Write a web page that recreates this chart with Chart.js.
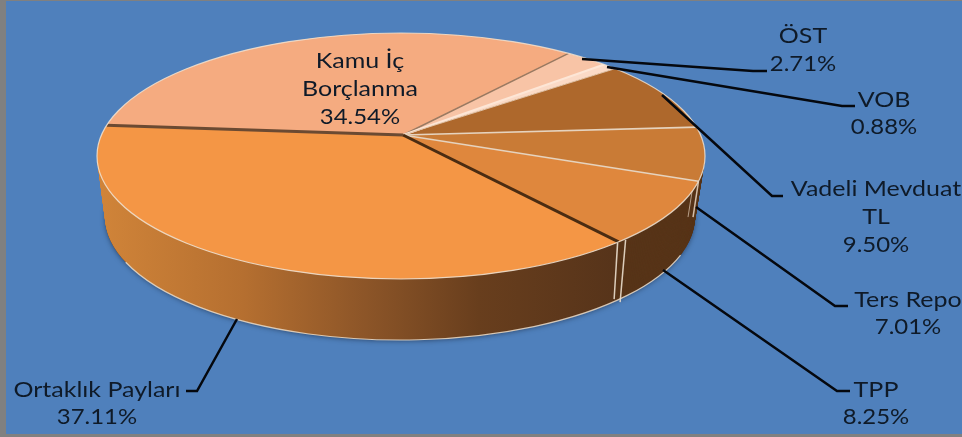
<!DOCTYPE html>
<html>
<head>
<meta charset="utf-8">
<script src="https://cdn.jsdelivr.net/npm/chart.js@4"></script>
<style>
html, body { margin: 0; padding: 0; background: #808080; }
canvas { display: block; }
</style>
</head>
<body>
<canvas id="myChart" width="962" height="437"></canvas>
<script>
const categories = ['Kamu İç Borçlanma', 'ÖST', 'VOB', 'Vadeli Mevduat TL', 'Ters Repo', 'TPP', 'Ortaklık Payları'];
const values = [34.54, 2.71, 0.88, 9.50, 7.01, 8.25, 37.11];
const topColors = ['#F5AB80', '#F8C4A6', '#FBDAC6', '#AE682C', '#C97B36', '#DF873D', '#F49645'];
const edgeColors = ['#9A7A62', '#FDE6D6', '#E2C4A8', '#E6D3BE', '#E6D3BE', '#4A2C12', '#6B4A32'];
const edgeWidths = [1.5, 2, 1, 1.6, 1.6, 3, 3];

// label text broken the way the picture breaks it
const labelLines = [['Kamu İç', 'Borçlanma'], ['ÖST'], ['VOB'], ['Vadeli Mevduat', 'TL'], ['Ters Repo'], ['TPP'], ['Ortaklık Payları']];
const labelX = [360, 803, 884, 876, 908, 876, 97];
const labelY = [68, 43, 107, 196, 307, 397, 397];
const lineStep = [28, 28, 27, 28, 27, 27, 27];

// leader lines, from the pie rim to the label
const leaders = [
    [[582, 59], [753, 71], [767, 71]],
    [[607, 67], [842, 106], [855, 106]],
    [[662, 95], [772, 196], [783, 196]],
    [[696, 207], [835, 306], [848, 306]],
    [[663, 270], [837, 391], [850, 391]],
    [[237, 319], [197, 391], [186, 391]]
];

// pie projection: top face and bottom face of the disc
const apex = { x: 403, y: 135 };
const topFace = { x: 401, y: 156, rx: 304, ry: 123 };
const bottomFace = { x: 400, y: 217, rx: 295, ry: 123 };
const scaleX = 1.7, scaleY = 0.68;
const depthSteps = 61;

function faceAt(t) {
    return {
        x: topFace.x + (bottomFace.x - topFace.x) * t,
        y: topFace.y + (bottomFace.y - topFace.y) * t,
        rx: topFace.rx + (bottomFace.rx - topFace.rx) * t,
        ry: topFace.ry + (bottomFace.ry - topFace.ry) * t
    };
}

function ellipsePath(ctx, f) {
    ctx.beginPath();
    ctx.ellipse(f.x, f.y, f.rx, f.ry, 0, 0, Math.PI * 2);
}

// where a slice edge meets the rim, at height t of the wall
function rimPoint(angle, t) {
    const f = faceAt(t);
    const k = f.rx / topFace.rx;
    const ox = apex.x, oy = apex.y + (f.y - topFace.y);
    const dx = Math.cos(angle) * scaleX * k, dy = Math.sin(angle) * scaleY * k;
    const a = (dx * dx) / (f.rx * f.rx) + (dy * dy) / (f.ry * f.ry);
    const b = 2 * ((ox - f.x) * dx / (f.rx * f.rx) + (oy - f.y) * dy / (f.ry * f.ry));
    const c = Math.pow(ox - f.x, 2) / (f.rx * f.rx) + Math.pow(oy - f.y, 2) / (f.ry * f.ry) - 1;
    const s = (-b + Math.sqrt(b * b - 4 * a * c)) / (2 * a);
    return { x: ox + dx * s, y: oy + dy * s };
}

function line(ctx, a, b, color, width) {
    ctx.beginPath();
    ctx.moveTo(a.x, a.y);
    ctx.lineTo(b.x, b.y);
    ctx.strokeStyle = color;
    ctx.lineWidth = width;
    ctx.stroke();
}

const pie3d = {
    id: 'pie3d',
    beforeDraw(chart) {
        const ctx = chart.ctx;
        ctx.save();
        ctx.fillStyle = '#808080';
        ctx.fillRect(0, 0, 962, 437);
        ctx.fillStyle = '#4F80BC';
        ctx.fillRect(6, 1, 956, 433);
        ctx.restore();
    },
    beforeDatasetDraw(chart) {
        const ctx = chart.ctx;
        const arcs = chart.getDatasetMeta(0).data;

        // soft shadow under the disc
        ctx.save();
        ctx.shadowColor = 'rgba(20,30,50,0.55)';
        ctx.shadowBlur = 5;
        ctx.shadowOffsetY = 1;
        ellipsePath(ctx, bottomFace);
        ctx.fillStyle = '#57341A';
        ctx.fill();
        ctx.restore();

        // side wall, stacked from the bottom face up to the top face
        const wallGrad = ctx.createLinearGradient(100, 0, 612, 0);
        wallGrad.addColorStop(0, '#D08439');
        wallGrad.addColorStop(0.28, '#B56F30');
        wallGrad.addColorStop(0.52, '#8C5528');
        wallGrad.addColorStop(0.74, '#683E1D');
        wallGrad.addColorStop(1, '#57341A');

        for (let n = depthSteps; n >= 0; n--) {
            const t = n / depthSteps;
            const f = faceAt(t);
            const k = f.rx / topFace.rx;
            ctx.save();
            ellipsePath(ctx, f);
            ctx.clip();
            arcs.forEach((arc, i) => {
                ctx.save();
                ctx.translate(apex.x, apex.y + (f.y - topFace.y));
                ctx.scale(scaleX * k, scaleY * k);
                ctx.beginPath();
                ctx.moveTo(0, 0);
                ctx.arc(0, 0, arc.outerRadius, arc.startAngle, arc.endAngle);
                ctx.closePath();
                ctx.restore();
                // the left rim shows the first and last slice, both in the lit gradient
                ctx.fillStyle = (i === 0 || i === arcs.length - 1) ? wallGrad : '#573418';
                ctx.fill();
            });
            ctx.restore();
        }

        // rim highlight along the bottom of the wall
        ctx.save();
        ctx.beginPath();
        ctx.ellipse(bottomFace.x, bottomFace.y, bottomFace.rx, bottomFace.ry, 0, Math.PI * 0.1, Math.PI * 0.88);
        ctx.strokeStyle = 'rgba(235,222,205,0.85)';
        ctx.lineWidth = 1.2;
        ctx.stroke();

        // light strips where the slices split on the wall
        const tppEnd = arcs[5].endAngle;
        const p0 = rimPoint(tppEnd, 0), p1 = rimPoint(tppEnd, 1);
        line(ctx, { x: p0.x + 7, y: p0.y - 2 }, { x: p1.x + 5, y: p1.y + 1 }, 'rgba(235,222,205,0.9)', 1.5);
        line(ctx, { x: p0.x - 1, y: p0.y + 1 }, { x: p1.x - 1, y: p1.y - 2 }, 'rgba(235,222,205,0.9)', 1.5);
        const tersEnd = arcs[4].endAngle;
        const q0 = rimPoint(tersEnd, 0), q1 = rimPoint(tersEnd, 0.6);
        line(ctx, q0, q1, 'rgba(225,205,185,0.9)', 1.5);
        line(ctx, { x: q0.x - 5, y: q0.y + 1 }, { x: q1.x - 5, y: q1.y }, 'rgba(225,205,185,0.7)', 1);
        ctx.restore();

        // the arcs themselves go through this transform, clipped to the top face
        const arc0 = arcs[0];
        ctx.save();
        ellipsePath(ctx, topFace);
        ctx.clip();
        ctx.translate(apex.x, apex.y);
        ctx.scale(scaleX, scaleY);
        ctx.translate(-arc0.x, -arc0.y);
    },
    afterDatasetDraw(chart) {
        const ctx = chart.ctx;
        const arcs = chart.getDatasetMeta(0).data;
        ctx.restore();

        ctx.save();
        ellipsePath(ctx, topFace);
        ctx.clip();
        arcs.forEach((arc, i) => {
            line(ctx, apex, rimPoint(arc.endAngle, 0), edgeColors[i], edgeWidths[i]);
        });
        ctx.restore();

        ctx.save();
        ellipsePath(ctx, topFace);
        ctx.strokeStyle = 'rgba(240,228,214,0.85)';
        ctx.lineWidth = 1.2;
        ctx.stroke();
        ctx.restore();
    },
    afterDraw(chart) {
        const ctx = chart.ctx;
        ctx.save();
        ctx.lineWidth = 2.5;
        ctx.strokeStyle = '#05080E';
        leaders.forEach(pts => {
            ctx.beginPath();
            pts.forEach((p, j) => j ? ctx.lineTo(p[0], p[1]) : ctx.moveTo(p[0], p[1]));
            ctx.stroke();
        });

        ctx.font = '21px Lato';
        ctx.textAlign = 'center';
        ctx.textBaseline = 'alphabetic';
        ctx.fillStyle = '#0F1A28';
        categories.forEach((name, i) => {
            const rows = labelLines[i].concat(values[i].toFixed(2) + '%');
            rows.forEach((row, j) => {
                // the source text is stretched sideways, names a bit more than numbers
                ctx.save();
                ctx.translate(labelX[i], labelY[i] + j * lineStep[i]);
                ctx.scale(j === rows.length - 1 ? 1.14 : 1.19, 1);
                ctx.fillText(row, 0, 0);
                ctx.restore();
            });
        });
        ctx.restore();
    }
};

const myChart = new Chart(document.getElementById('myChart').getContext('2d'), {
    type: 'pie',
    data: {
        labels: categories,
        datasets: [{
            data: values,
            backgroundColor: topColors,
            borderWidth: 0,
            clip: false
        }]
    },
    options: {
        responsive: false,
        animation: false,
        rotation: 274.7,
        layout: { padding: 0 },
        plugins: {
            legend: { display: false },
            tooltip: { enabled: false }
        }
    },
    plugins: [pie3d]
});
</script>
</body>
</html>
